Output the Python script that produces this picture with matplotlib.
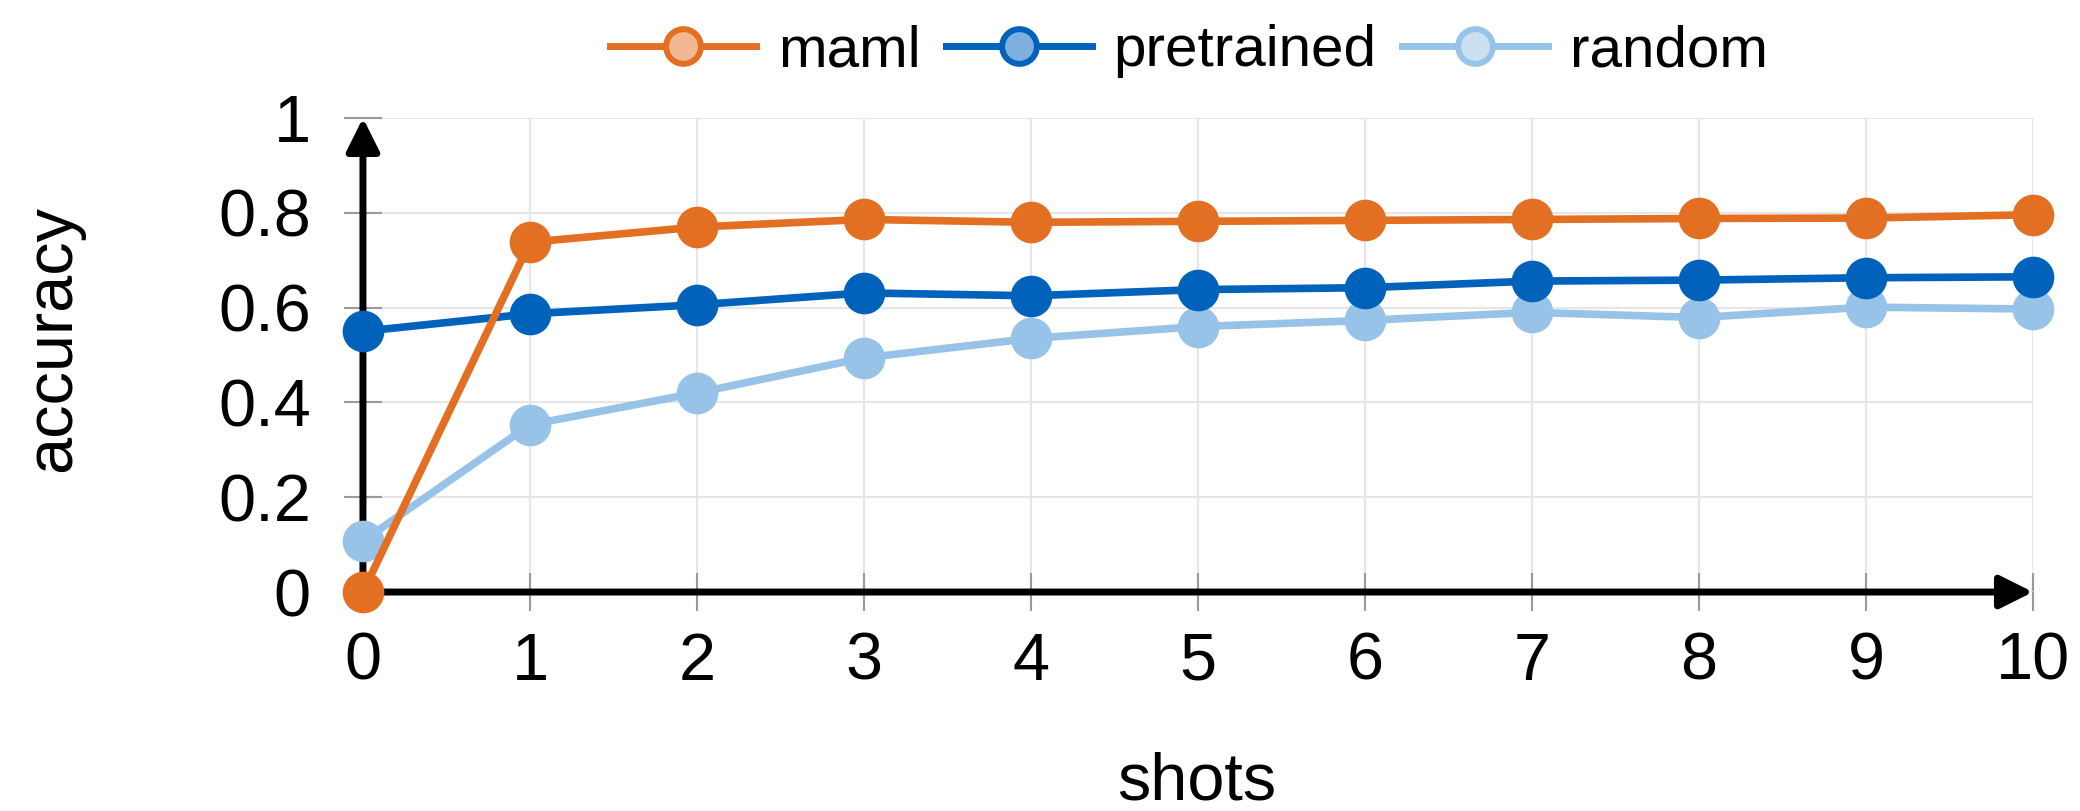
import matplotlib
matplotlib.use("Agg")
import matplotlib.pyplot as plt
from matplotlib.lines import Line2D
import numpy as np

plt.rcParams['font.family'] = ['Liberation Sans', 'DejaVu Sans']

shots = [0, 1, 2, 3, 4, 5, 6, 7, 8, 9, 10]
maml = [0.0, 0.738, 0.770, 0.786, 0.780, 0.782, 0.784, 0.786, 0.788, 0.789, 0.796]
pretrained = [0.550, 0.587, 0.606, 0.631, 0.625, 0.638, 0.642, 0.656, 0.658, 0.663, 0.665]
random_ = [0.108, 0.353, 0.420, 0.494, 0.535, 0.560, 0.573, 0.590, 0.579, 0.601, 0.597]
series_names = ["maml", "pretrained", "random"]
yticks = [0, 0.2, 0.4, 0.6, 0.8, 1.0]
ytick_labels = ["0", "0.2", "0.4", "0.6", "0.8", "1"]

colors = {"maml": "#E37022", "pretrained": "#0062BB", "random": "#97C3E8"}
light = {"maml": "#F1B891", "pretrained": "#7FB0DD", "random": "#CBE1F3"}

fig = plt.figure(figsize=(20.8, 8.11), dpi=100)
ax = fig.add_axes([0.1745, 0.270, 0.8029, 0.5845])
ax.set_xlim(0, 10)
ax.set_ylim(0, 1)

for name, vals, z in [("random", random_, 4), ("pretrained", pretrained, 5), ("maml", maml, 6)]:
    ax.plot(shots, vals, color=colors[name], lw=5.5, marker='o', markersize=30,
            markeredgewidth=0, clip_on=False, zorder=z)

for s in ax.spines.values():
    s.set_visible(False)

ax.grid(True, color='#E6E6E6', lw=1.5, zorder=0)
ax.set_axisbelow(True)
ax.set_xticks(shots)
ax.set_yticks(yticks)
ax.set_yticklabels(ytick_labels)
ax.tick_params(axis='both', direction='inout', length=27, width=1.5, color='#9A9A9A',
               labelsize=48)
ax.tick_params(axis='x', pad=15)
ax.tick_params(axis='y', pad=24)

# arrow axes
for xy in [(10, 0), (0, 1)]:
    ax.annotate('', xy=xy, xytext=(0, 0), xycoords='data',
                arrowprops=dict(arrowstyle='-|>,head_length=1.0,head_width=0.5', lw=5,
                                color='black', shrinkA=0, shrinkB=0, mutation_scale=20),
                annotation_clip=False, zorder=3)

fig.text(0.0255, 0.583, "accuracy", rotation=90, fontsize=48, ha='center', va='center')
fig.text(0.5755, 0.035, "shots", fontsize=48, ha='center', va='center')

handles = [Line2D([0], [0], color=colors[n], lw=5, marker='o', markersize=25,
                  markerfacecolor=light[n], markeredgecolor=colors[n], markeredgewidth=4.3)
           for n in series_names]
fig.legend(handles, series_names, loc='center', bbox_to_anchor=(0.5716, 0.937), ncol=3,
           frameon=False, fontsize=42, handlelength=2.5, columnspacing=0.43, handletextpad=0.38)

fig.savefig("out.png", dpi=100)
